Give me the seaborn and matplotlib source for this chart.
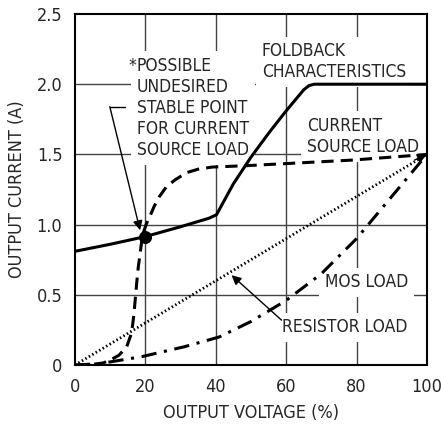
import numpy as np
import pandas as pd
import matplotlib
matplotlib.use('Agg')
import matplotlib.pyplot as plt
import matplotlib.font_manager as fm
import seaborn as sns

# foldback characteristic (solid)
fold_x = [0, 10, 20, 30, 38, 40.2, 45, 50, 55, 60, 63, 65, 66.5, 68, 100]
fold_y = [0.81, 0.86, 0.915, 0.985, 1.045, 1.07, 1.29, 1.48, 1.65, 1.81, 1.90, 1.96, 1.99, 2.0, 2.0]

# current source load (dashed)
cs_x = [0, 5, 8, 10, 12.5, 14.7, 16.1, 16.7, 17.1, 17.6, 18, 18.5, 18.9, 19.4, 20.2,
        21.3, 22.5, 24, 26, 28.5, 31.7, 35, 39, 48.8, 64, 79, 100]
cs_y = [0, 0.005, 0.015, 0.035, 0.07, 0.13, 0.23, 0.35, 0.46, 0.6, 0.70, 0.79, 0.87, 0.94, 1.0,
        1.06, 1.13, 1.2, 1.27, 1.32, 1.37, 1.395, 1.41, 1.42, 1.44, 1.46, 1.5]

# resistor load (dotted)
res_x = [0, 100]
res_y = [0, 1.5]

# MOS load (dash-dot)
mos_x = [0, 7, 19, 31, 41, 50, 60, 70, 80, 88, 97, 100]
mos_y = [0, 0.01, 0.06, 0.13, 0.2, 0.31, 0.46, 0.65, 0.9, 1.14, 1.41, 1.5]

stable_pt = (20, 0.915)

x_ticks = [0, 20, 40, 60, 80, 100]
y_ticks = [0, 0.5, 1.0, 1.5, 2.0, 2.5]
y_ticklabels = ['0', '0.5', '1.0', '1.5', '2.0', '2.5']

sns.set_style('white')

# pick a condensed face if one is installed
names = {f.name for f in fm.fontManager.ttflist}
stretch = 'normal'
if 'Liberation Sans Narrow' in names:
    fam, fs = 'Liberation Sans Narrow', 13
elif any(f.name == 'DejaVu Sans' and f.stretch == 'condensed' for f in fm.fontManager.ttflist):
    fam, fs, stretch = 'DejaVu Sans', 12.5, 'condensed'
else:
    fam, fs = 'Liberation Sans', 11
plt.rcParams['font.family'] = [fam, 'DejaVu Sans']
plt.rcParams['font.stretch'] = stretch
plt.rcParams['font.size'] = fs

fig = plt.figure(figsize=(4.41, 4.24), dpi=100)
ax = fig.add_axes([0.170, 0.139, 0.798, 0.828])

for xv in x_ticks[1:-1]:
    ax.axvline(xv, color='#444444', lw=1.0, zorder=1)
for yv in y_ticks[1:-1]:
    ax.axhline(yv, color='#444444', lw=1.0, zorder=1)

sns.lineplot(x=fold_x, y=fold_y, ax=ax, color='black', lw=2.2, zorder=5)
sns.lineplot(x=cs_x, y=cs_y, ax=ax, color='black', lw=2.2, zorder=5,
             linestyle=(0, (4, 2.3)))
sns.lineplot(x=res_x, y=res_y, ax=ax, color='black', lw=2.0, zorder=5,
             linestyle=(0, (0.55, 0.9)))
sns.lineplot(x=mos_x, y=mos_y, ax=ax, color='black', lw=2.2, zorder=5,
             linestyle=(0, (5, 2.5, 1, 2.5)))
ax.scatter([stable_pt[0]], [stable_pt[1]], s=70, color='black', zorder=6)

box = dict(facecolor='white', edgecolor='none', pad=4)
ax.text(17.6, 2.195, 'POSSIBLE\nUNDESIRED\nSTABLE POINT\nFOR CURRENT\nSOURCE LOAD',
        ha='left', va='top', linespacing=1.22, bbox=box, zorder=3)
ax.text(17.4, 2.195, '*', ha='right', va='top', fontsize=fs, zorder=4)
ax.text(53.1, 2.16, 'FOLDBACK\nCHARACTERISTICS', ha='left', va='center',
        linespacing=1.22, bbox=box, zorder=3)
ax.text(65.9, 1.627, 'CURRENT\nSOURCE LOAD', ha='left', va='center',
        linespacing=1.22, bbox=box, zorder=3)
ax.text(71, 0.59, 'MOS LOAD', ha='left', va='center', bbox=box, zorder=3)
ax.text(58.8, 0.27, 'RESISTOR LOAD', ha='left', va='center', bbox=box, zorder=3)

# arrow to the stable point
ax.plot([9.9, 14.1], [1.84, 1.84], color='black', lw=1.0, zorder=4)
ax.annotate('', xy=(18.5, 0.96), xytext=(9.9, 1.84),
            arrowprops=dict(arrowstyle='-|>', color='black', lw=1.0,
                            mutation_scale=14, shrinkA=0, shrinkB=0), zorder=4)
# arrow to resistor load
ax.annotate('', xy=(44.5, 0.64), xytext=(58.7, 0.32),
            arrowprops=dict(arrowstyle='-|>', color='black', lw=1.0,
                            mutation_scale=14, shrinkA=0, shrinkB=0), zorder=4)
# arrowhead at end point
ax.annotate('', xy=(100, 1.5), xytext=(96.5, 1.46),
            arrowprops=dict(arrowstyle='-|>', color='black', lw=1.0,
                            mutation_scale=14, shrinkA=0, shrinkB=0), zorder=4)

ax.set_xlim(0, 100)
ax.set_ylim(0, 2.5)
ax.set_xticks(x_ticks)
ax.set_yticks(y_ticks)
ax.set_yticklabels(y_ticklabels)
ax.tick_params(length=0, pad=9, labelsize=fs + 0.5)
for s in ax.spines.values():
    s.set_color('black')
    s.set_linewidth(1.5)
ax.set_xlabel('OUTPUT VOLTAGE (%)', fontsize=fs + 0.5, labelpad=6)
ax.set_ylabel('OUTPUT CURRENT (A)', fontsize=fs + 0.5, labelpad=8)

fig.savefig('out.png', dpi=100)
